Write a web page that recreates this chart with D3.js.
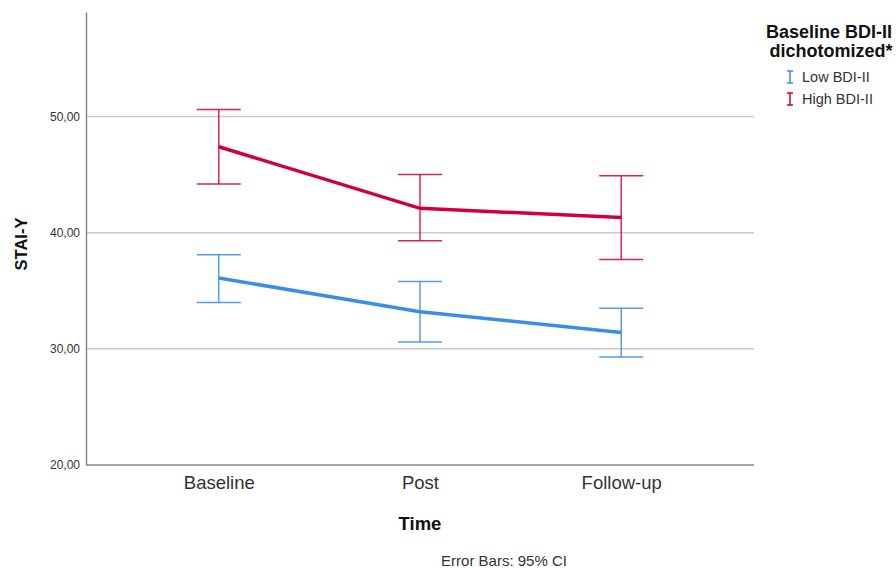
<!DOCTYPE html>
<html>
<head>
<meta charset="utf-8">
<script src="https://cdn.jsdelivr.net/npm/d3@7"></script>
<style>
  body { margin: 0; background: #fff; }
  svg { font-family: Arial, 'Liberation Sans', sans-serif; }
</style>
</head>
<body>
<svg id="svg" width="896" height="568"></svg>
<script>
const times = ['Baseline', 'Post', 'Follow-up']
const groupNames = ['Low BDI-II', 'High BDI-II']
const lowMean = [36.1, 33.2, 31.4]
const lowLo = [34.0, 30.6, 29.3]
const lowHi = [38.1, 35.8, 33.5]
const highMean = [47.4, 42.1, 41.3]
const highLo = [44.2, 39.3, 37.7]
const highHi = [50.6, 45.0, 44.9]
const yTicks = [20, 30, 40, 50]

const colours = ['#3a8ee6', '#d2003a']

const series = [
  { name: groupNames[0], mean: lowMean, lo: lowLo, hi: lowHi },
  { name: groupNames[1], mean: highMean, lo: highLo, hi: highHi }
]

const plotL = 86, plotR = 754, plotT = 12, plotB = 465

const xScale = d3.scalePoint()
  .domain(times)
  .range([plotL, plotR])
  .padding(0.66)

const yScale = d3.scaleLinear()
  .domain([20, 59])
  .range([plotB, plotT])

const colourScale = d3.scaleOrdinal()
  .domain(groupNames)
  .range(colours)

const svg = d3.select('#svg')

// gridlines
svg.append('g')
  .selectAll('line')
  .data(yTicks.slice(1))
  .enter()
  .append('line')
  .attr('x1', plotL)
  .attr('x2', plotR)
  .attr('y1', d => yScale(d))
  .attr('y2', d => yScale(d))
  .attr('stroke', '#cacaca')
  .attr('stroke-width', 1.5)

// axes
const yAxis = d3.axisLeft(yScale)
  .tickValues(yTicks)
  .tickSize(0)
  .tickPadding(6)
  .tickFormat(d => d3.format('.2f')(d).replace('.', ','))

const gy = svg.append('g')
  .attr('transform', `translate(${plotL},0)`)
  .call(yAxis)
gy.select('.domain').attr('stroke', '#8a8a8a').attr('stroke-width', 1.5)
gy.selectAll('text').attr('font-size', 12).attr('fill', '#333')

const xAxis = d3.axisBottom(xScale).tickSize(0).tickPadding(11)
const gx = svg.append('g')
  .attr('transform', `translate(0,${plotB})`)
  .call(xAxis)
gx.select('.domain').attr('stroke', '#8a8a8a').attr('stroke-width', 1.5)
  .attr('d', `M${plotL},0H${plotR}`)
gx.selectAll('text').attr('font-size', 18.5).attr('fill', '#333')

// error bars
const capHalf = 22
series.forEach(s => {
  const g = svg.append('g')
  const c = colourScale(s.name)
  times.forEach((t, i) => {
    const x = xScale(t)
    g.append('line')
      .attr('x1', x).attr('x2', x)
      .attr('y1', yScale(s.lo[i])).attr('y2', yScale(s.hi[i]))
      .attr('stroke', c).attr('stroke-width', 1.5).attr('opacity', 0.85)
    ;[s.lo[i], s.hi[i]].forEach(v => {
      g.append('line')
        .attr('x1', x - capHalf).attr('x2', x + capHalf)
        .attr('y1', yScale(v)).attr('y2', yScale(v))
        .attr('stroke', c).attr('stroke-width', 1.5).attr('opacity', 0.85)
    })
  })
  g.append('path')
    .attr('d', d3.line()(times.map((t, i) => [xScale(t), yScale(s.mean[i])])))
    .attr('stroke', c)
    .attr('stroke-width', 3.5)
    .attr('fill', 'none')
})

// axis titles
svg.append('text')
  .text('STAI-Y')
  .attr('transform', 'translate(27,244) rotate(-90)')
  .attr('text-anchor', 'middle')
  .attr('font-size', 16.5)
  .attr('font-weight', 'bold')
  .attr('fill', '#111')

svg.append('text')
  .text('Time')
  .attr('x', 420)
  .attr('y', 530)
  .attr('text-anchor', 'middle')
  .attr('font-size', 18.5)
  .attr('font-weight', 'bold')
  .attr('fill', '#111')

svg.append('text')
  .text('Error Bars: 95% CI')
  .attr('x', 504)
  .attr('y', 566)
  .attr('text-anchor', 'middle')
  .attr('font-size', 15)
  .attr('fill', '#333')

// legend
const legend = svg.append('g')
legend.append('text')
  .text('Baseline BDI-II')
  .attr('x', 829).attr('y', 38)
  .attr('text-anchor', 'middle')
  .attr('font-size', 18).attr('font-weight', 'bold').attr('fill', '#111')
legend.append('text')
  .text('dichotomized*')
  .attr('x', 831).attr('y', 57)
  .attr('text-anchor', 'middle')
  .attr('font-size', 18).attr('font-weight', 'bold').attr('fill', '#111')

const items = legend.selectAll('.item')
  .data(groupNames)
  .enter()
  .append('g')
  .attr('transform', (d, i) => `translate(790,${77 + i * 22})`)

items.append('path')
  .attr('d', 'M-3,-6H3M0,-6V6M-3,6H3')
  .attr('stroke', d => colourScale(d))
  .attr('stroke-width', 1.5)
  .attr('fill', 'none')

items.append('text')
  .text(d => d)
  .attr('x', 12)
  .attr('y', 5)
  .attr('font-size', 14.5)
  .attr('fill', '#333')
</script>
</body>
</html>
